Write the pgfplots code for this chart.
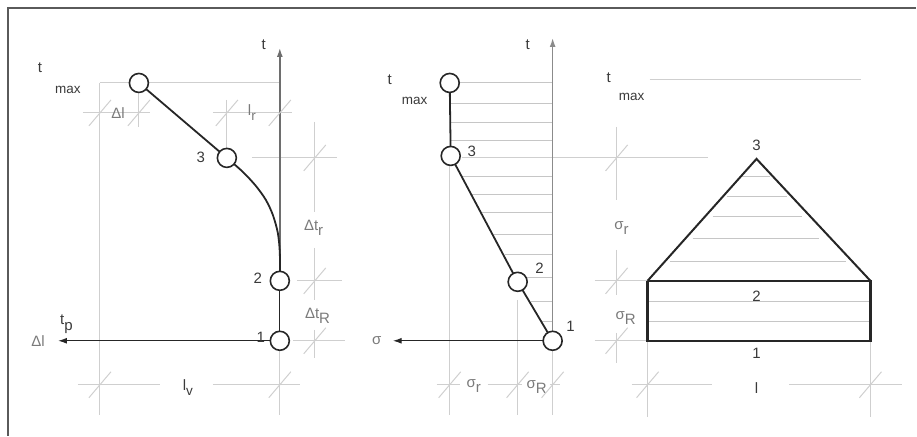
\documentclass[border=0pt]{standalone}
\usepackage{pgfplots}
\pgfplotsset{compat=1.18}
\usepackage{fontspec}
\setmainfont{Liberation Sans}
\usetikzlibrary{arrows.meta}

\definecolor{framec}{HTML}{5A5A5A}
\definecolor{axc}{HTML}{6E6E6E}
\definecolor{consc}{HTML}{CFCFCF}
\definecolor{hatchc}{HTML}{C6C6C6}
\definecolor{inkc}{HTML}{262626}
\definecolor{labc}{HTML}{3A3A3A}
\definecolor{dimc}{HTML}{7A7A7A}

% oblique tick used on dimension lines
\pgfdeclareplotmark{dimslash}{%
  \pgfpathmoveto{\pgfqpoint{-0.85\pgfplotmarksize}{-\pgfplotmarksize}}%
  \pgfpathlineto{\pgfqpoint{0.85\pgfplotmarksize}{\pgfplotmarksize}}%
  \pgfusepathqstroke}

\newcommand{\labfont}{\fontsize{15}{17}\selectfont}
\newcommand{\smfont}{\fontsize{13.5}{15}\selectfont}
\newcommand{\sub}[1]{\raisebox{-0.35em}{#1}}

\tikzset{
  lab/.style={text=labc, font=\labfont, inner sep=0pt},
  dim/.style={text=dimc, font=\labfont, inner sep=0pt},
}
\pgfplotsset{
  cons/.style={color=consc, line width=1.1pt},
  hatch/.style={color=hatchc, line width=1.1pt},
  ink/.style={color=inkc, line width=1.8pt},
  axline/.style={color=axc, line width=1.4pt, -{Latex[length=9pt,width=6pt]}},
  ticks/.style={only marks, mark=dimslash, mark size=13pt, mark options={draw=consc, line width=1pt}},
  circ/.style={only marks, mark=*, mark size=9.5pt, mark options={fill=white, draw=inkc, line width=1.6pt}},
}

\begin{document}
\begin{tikzpicture}
\begin{axis}[
  x=1pt, y=1pt, y dir=reverse,
  xmin=0, xmax=917, ymin=0, ymax=436,
  scale only axis, hide axis, clip=false,
  unbounded coords=jump,
]
% sheet extent
\addplot[draw=none] coordinates {(0,0) (917,0) (917,436) (0,436)};
% frame
\addplot[color=framec, line width=1.2pt] coordinates {(8,436) (8,8) (917,8)};

% ---------- left panel: elongation over time ----------
\addplot[cons] coordinates {
  (100,83) (280,83) (nan,nan)
  (100,83) (100,415) (nan,nan)
  (139,83) (139,127) (nan,nan)
  (227,100) (227,150) (nan,nan)
  (83,113) (150,113) (nan,nan)
  (213,113) (292,113) (nan,nan)
  (78,385) (160,385) (nan,nan)
  (213,385) (300,385) (nan,nan)
  (280,350) (280,415) (nan,nan)
  (252,158) (337,158) (nan,nan)
  (297,281) (342,281) (nan,nan)
  (293,341) (345,341) (nan,nan)
  (315,122) (315,212) (nan,nan)
  (315,248) (315,300) (nan,nan)
  (315,330) (315,358)
};
\addplot[ticks] coordinates {(100,113) (139,113) (227,113) (280,113)
  (315,158) (315,281) (315,341) (100,385) (280,385)};
\addplot[axline] coordinates {(280,281) (280,48)};
\addplot[axline, color=inkc, line width=1.3pt] coordinates {(280,341) (58,341)};
\addplot[ink] coordinates {(139,83) (227,158)};
\addplot[ink, smooth] coordinates {(227,158) (243,172) (256,186) (266,200)
  (273,215) (278,233) (280,253) (280,281)};
\addplot[ink, line width=1.3pt] coordinates {(280,281) (280,341)};
\addplot[circ] coordinates {(139,83) (227,158) (280,281) (280,341)};

\node[lab] at (axis cs:264,45) {t};
\node[lab] at (axis cs:40,68) {t};
\node[lab, font=\smfont] at (axis cs:68,90) {max};
\node[dim] at (axis cs:118,113) {Δl};
\node[dim] at (axis cs:252,113) {l\sub{\smfont r}};
\node[lab] at (axis cs:201,157) {3};
\node[lab] at (axis cs:258,278) {2};
\node[lab] at (axis cs:261,338) {1};
\node[dim] at (axis cs:38,341) {Δl};
\node[lab, anchor=base west] at (axis cs:60,325) {t\sub{p}};
\node[lab] at (axis cs:188,388) {l\sub{\smfont v}};
\node[dim, anchor=west] at (axis cs:304,228) {Δt\sub{r}};
\node[dim, anchor=west] at (axis cs:305,316) {Δt\sub{R}};

% ---------- middle panel: stress over time ----------
\addplot[hatch] coordinates {
  (450,83) (553,83) (nan,nan)
  (450,104) (553,104) (nan,nan)
  (450,123) (553,123) (nan,nan)
  (450,141) (553,141) (nan,nan)
  (462.6,177) (553,177) (nan,nan)
  (472.5,195) (553,195) (nan,nan)
  (482.4,213) (553,213) (nan,nan)
  (494.6,235) (553,235) (nan,nan)
  (505.6,255) (553,255) (nan,nan)
  (518.3,278) (553,278) (nan,nan)
  (531.5,302) (553,302) (nan,nan)
  (542.5,322) (553,322)
};
\addplot[cons] coordinates {
  (462,158) (708,158) (nan,nan)
  (450,165) (450,415) (nan,nan)
  (518,300) (518,415) (nan,nan)
  (553,350) (553,415) (nan,nan)
  (437,385) (460,385) (nan,nan)
  (488,385) (522,385) (nan,nan)
  (550,385) (560,385)
};
\addplot[ticks] coordinates {(450,385) (518,385) (553,385)};
\addplot[axline, color=axc!80] coordinates {(553,341) (553,38)};
\addplot[axline, color=inkc, line width=1.3pt] coordinates {(553,341) (393,341)};
\addplot[ink] coordinates {(450,83) (451,156) (518,282) (553,341)};
\addplot[circ] coordinates {(450,83) (451,156) (518,282) (553,341)};

\node[lab] at (axis cs:528,45) {t};
\node[lab] at (axis cs:390,80) {t};
\node[lab, font=\smfont] at (axis cs:415,101) {max};
\node[lab] at (axis cs:472,151) {3};
\node[lab] at (axis cs:540,268) {2};
\node[lab] at (axis cs:571,327) {1};
\node[dim] at (axis cs:377,341) {σ};
\node[dim] at (axis cs:474,386) {σ\sub{r}};
\node[dim] at (axis cs:537,387) {σ\sub{R}};

% ---------- right panel: stress along the length ----------
\addplot[cons] coordinates {
  (650,80) (862,80) (nan,nan)
  (617,127) (617,200) (nan,nan)
  (617,250) (617,295) (nan,nan)
  (617,333) (617,363) (nan,nan)
  (595,281) (648,281) (nan,nan)
  (595,341) (648,341) (nan,nan)
  (632,385) (712,385) (nan,nan)
  (790,385) (903,385) (nan,nan)
  (648,341) (648,417) (nan,nan)
  (871,341) (871,417)
};
\addplot[ticks] coordinates {(617,158) (617,281) (617,341) (648,385) (871,385)};
\addplot[hatch] coordinates {
  (742,177) (770,177) (nan,nan)
  (727,197) (788,197) (nan,nan)
  (713,217) (803,217) (nan,nan)
  (693,239) (820,239) (nan,nan)
  (670,262) (847,262) (nan,nan)
  (648,302) (871,302) (nan,nan)
  (648,322) (871,322)
};
\addplot[ink, line width=2.2pt] coordinates {(648,281) (871,281) (871,341) (648,341) (648,281)};
\addplot[ink, line width=2pt] coordinates {(648,281) (757,159) (871,281)};

\node[lab] at (axis cs:609,78) {t};
\node[lab, font=\smfont] at (axis cs:632,97) {max};
\node[lab] at (axis cs:757,145) {3};
\node[lab] at (axis cs:757,296) {2};
\node[lab] at (axis cs:757,354) {1};
\node[dim] at (axis cs:622,228) {σ\sub{r}};
\node[dim] at (axis cs:626,318) {σ\sub{R}};
\node[lab] at (axis cs:757,388) {l};
\end{axis}
\end{tikzpicture}
\end{document}
